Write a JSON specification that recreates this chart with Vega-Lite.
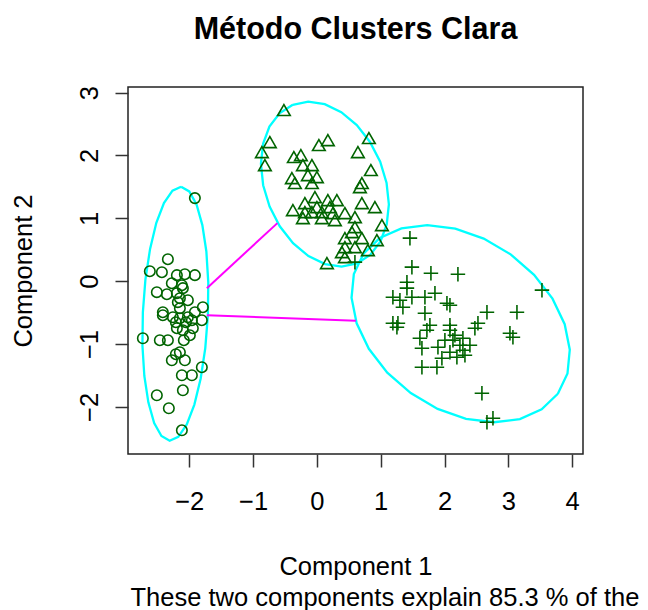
{
  "$schema": "https://vega.github.io/schema/vega-lite/v6.json",
  "width": 455,
  "height": 367,
  "autosize": {"type": "none"},
  "padding": {"left": 128, "top": 87, "right": 65, "bottom": 156},
  "background": "white",
  "title": {
    "text": "Método Clusters Clara",
    "font": "Liberation Sans",
    "fontSize": 30.5,
    "fontWeight": "bold",
    "color": "#000000",
    "anchor": "middle",
    "baseline": "alphabetic",
    "offset": 16
  },
  "config": {
    "font": "Liberation Sans",
    "view": {"stroke": "#222222", "strokeWidth": 1.5},
    "axis": {"grid": false}
  },
  "datasets": {
    "pts": [
      {"cluster":"1","x":-1.912,"y":1.322},{"cluster":"1","x":-2.335,"y":0.350},{"cluster":"1","x":-2.618,"y":0.159},{"cluster":"1","x":-2.429,"y":0.143},{"cluster":"1","x":-2.194,"y":0.096},{"cluster":"1","x":-2.069,"y":0.111},{"cluster":"1","x":-1.912,"y":0.096},{"cluster":"1","x":-2.273,"y":-0.032},{"cluster":"1","x":-2.116,"y":-0.064},{"cluster":"1","x":-2.508,"y":-0.175},{"cluster":"1","x":-2.351,"y":-0.207},{"cluster":"1","x":-2.194,"y":-0.191},{"cluster":"1","x":-2.100,"y":-0.111},{"cluster":"1","x":-2.147,"y":-0.271},{"cluster":"1","x":-1.787,"y":-0.414},{"cluster":"1","x":-2.414,"y":-0.494},{"cluster":"1","x":-2.147,"y":-0.430},{"cluster":"1","x":-2.414,"y":-0.541},{"cluster":"1","x":-2.257,"y":-0.573},{"cluster":"1","x":-2.147,"y":-0.589},{"cluster":"1","x":-2.022,"y":-0.573},{"cluster":"1","x":-1.803,"y":-0.621},{"cluster":"1","x":-2.194,"y":-0.748},{"cluster":"1","x":-2.100,"y":-0.780},{"cluster":"1","x":-1.944,"y":-0.748},{"cluster":"1","x":-1.991,"y":-0.860},{"cluster":"1","x":-2.727,"y":-0.908},{"cluster":"1","x":-2.461,"y":-0.939},{"cluster":"1","x":-2.335,"y":-0.939},{"cluster":"1","x":-2.147,"y":-1.131},{"cluster":"1","x":-2.273,"y":-1.258},{"cluster":"1","x":-2.069,"y":-1.258},{"cluster":"1","x":-1.803,"y":-1.369},{"cluster":"1","x":-2.116,"y":-1.497},{"cluster":"1","x":-1.959,"y":-1.497},{"cluster":"1","x":-2.100,"y":-1.736},{"cluster":"1","x":-2.508,"y":-1.815},{"cluster":"1","x":-2.320,"y":-2.022},{"cluster":"1","x":-2.116,"y":-2.373},{"cluster":"1","x":-2.053,"y":-0.653},{"cluster":"1","x":-1.959,"y":-0.621},{"cluster":"1","x":-2.210,"y":-0.653},{"cluster":"1","x":-1.912,"y":-0.494},{"cluster":"1","x":-2.022,"y":-0.303},{"cluster":"1","x":-2.179,"y":-0.334},{"cluster":"1","x":-2.085,"y":-0.939},{"cluster":"1","x":-2.210,"y":-1.162},
      {"cluster":"2","x":-0.517,"y":2.723},{"cluster":"2","x":-0.737,"y":2.213},{"cluster":"2","x":-0.862,"y":2.054},{"cluster":"2","x":-0.815,"y":1.847},{"cluster":"2","x":0.031,"y":2.166},{"cluster":"2","x":0.172,"y":2.245},{"cluster":"2","x":0.815,"y":2.277},{"cluster":"2","x":0.643,"y":2.054},{"cluster":"2","x":0.846,"y":1.768},{"cluster":"2","x":-0.361,"y":1.975},{"cluster":"2","x":-0.251,"y":2.006},{"cluster":"2","x":-0.219,"y":1.847},{"cluster":"2","x":-0.078,"y":1.847},{"cluster":"2","x":-0.392,"y":1.640},{"cluster":"2","x":-0.141,"y":1.688},{"cluster":"2","x":0.000,"y":1.656},{"cluster":"2","x":0.705,"y":1.561},{"cluster":"2","x":-0.345,"y":1.561},{"cluster":"2","x":-0.078,"y":1.561},{"cluster":"2","x":0.674,"y":1.497},{"cluster":"2","x":-0.031,"y":1.338},{"cluster":"2","x":0.172,"y":1.290},{"cluster":"2","x":0.313,"y":1.290},{"cluster":"2","x":0.705,"y":1.242},{"cluster":"2","x":0.909,"y":1.178},{"cluster":"2","x":-0.376,"y":1.131},{"cluster":"2","x":-0.188,"y":1.099},{"cluster":"2","x":-0.078,"y":1.099},{"cluster":"2","x":0.078,"y":1.099},{"cluster":"2","x":0.251,"y":1.083},{"cluster":"2","x":0.439,"y":1.083},{"cluster":"2","x":-0.219,"y":1.003},{"cluster":"2","x":0.078,"y":1.003},{"cluster":"2","x":0.282,"y":0.971},{"cluster":"2","x":0.596,"y":1.019},{"cluster":"2","x":0.596,"y":0.860},{"cluster":"2","x":1.019,"y":0.892},{"cluster":"2","x":0.549,"y":0.780},{"cluster":"2","x":0.439,"y":0.685},{"cluster":"2","x":0.705,"y":0.685},{"cluster":"2","x":0.940,"y":0.653},{"cluster":"2","x":0.439,"y":0.541},{"cluster":"2","x":0.596,"y":0.541},{"cluster":"2","x":0.799,"y":0.494},{"cluster":"2","x":0.439,"y":0.382},{"cluster":"2","x":0.157,"y":0.287},{"cluster":"2","x":-0.188,"y":1.242},{"cluster":"2","x":0.000,"y":1.178},{"cluster":"2","x":0.204,"y":1.178},{"cluster":"2","x":0.392,"y":0.462},
      {"cluster":"3","x":1.458,"y":0.685},{"cluster":"3","x":1.489,"y":0.223},{"cluster":"3","x":1.787,"y":0.127},{"cluster":"3","x":2.210,"y":0.111},{"cluster":"3","x":3.527,"y":-0.143},{"cluster":"3","x":1.411,"y":-0.016},{"cluster":"3","x":1.411,"y":-0.111},{"cluster":"3","x":1.191,"y":-0.255},{"cluster":"3","x":1.301,"y":-0.303},{"cluster":"3","x":1.489,"y":-0.255},{"cluster":"3","x":1.693,"y":-0.255},{"cluster":"3","x":1.850,"y":-0.191},{"cluster":"3","x":2.038,"y":-0.350},{"cluster":"3","x":2.085,"y":-0.382},{"cluster":"3","x":2.665,"y":-0.494},{"cluster":"3","x":3.135,"y":-0.494},{"cluster":"3","x":1.693,"y":-0.510},{"cluster":"3","x":1.191,"y":-0.669},{"cluster":"3","x":1.270,"y":-0.669},{"cluster":"3","x":1.771,"y":-0.701},{"cluster":"3","x":2.085,"y":-0.701},{"cluster":"3","x":2.524,"y":-0.669},{"cluster":"3","x":1.348,"y":-0.414},{"cluster":"3","x":0.596,"y":0.303},{"cluster":"3","x":1.254,"y":-0.732},{"cluster":"3","x":1.724,"y":-0.780},{"cluster":"3","x":2.476,"y":-0.748},{"cluster":"3","x":3.025,"y":-0.828},{"cluster":"3","x":3.072,"y":-0.892},{"cluster":"3","x":1.614,"y":-0.908},{"cluster":"3","x":2.132,"y":-0.939},{"cluster":"3","x":2.288,"y":-0.908},{"cluster":"3","x":1.897,"y":-1.051},{"cluster":"3","x":1.646,"y":-1.067},{"cluster":"3","x":2.085,"y":-1.131},{"cluster":"3","x":2.288,"y":-1.099},{"cluster":"3","x":2.320,"y":-1.178},{"cluster":"3","x":2.194,"y":-1.210},{"cluster":"3","x":1.959,"y":-1.226},{"cluster":"3","x":1.646,"y":-1.369},{"cluster":"3","x":1.881,"y":-1.369},{"cluster":"3","x":2.586,"y":-1.783},{"cluster":"3","x":2.665,"y":-2.245},{"cluster":"3","x":2.759,"y":-2.182},{"cluster":"3","x":2.163,"y":-0.860},{"cluster":"3","x":2.241,"y":-1.019},{"cluster":"3","x":2.006,"y":-0.939},{"cluster":"3","x":2.398,"y":-1.019},{"cluster":"3","x":2.085,"y":-0.780}
    ],
    "ell": [
      {"cluster":"1","i":0,"x":-2.128,"y":1.503},{"cluster":"1","i":1,"x":-2.000,"y":1.428},{"cluster":"1","i":2,"x":-1.886,"y":1.220},{"cluster":"1","i":3,"x":-1.795,"y":0.893},{"cluster":"1","i":4,"x":-1.732,"y":0.473},{"cluster":"1","i":5,"x":-1.702,"y":-0.018},{"cluster":"1","i":6,"x":-1.708,"y":-0.541},{"cluster":"1","i":7,"x":-1.749,"y":-1.065},{"cluster":"1","i":8,"x":-1.821,"y":-1.549},{"cluster":"1","i":9,"x":-1.920,"y":-1.963},{"cluster":"1","i":10,"x":-2.039,"y":-2.280},{"cluster":"1","i":11,"x":-2.172,"y":-2.476},{"cluster":"1","i":12,"x":-2.307,"y":-2.538},{"cluster":"1","i":13,"x":-2.436,"y":-2.463},{"cluster":"1","i":14,"x":-2.550,"y":-2.256},{"cluster":"1","i":15,"x":-2.641,"y":-1.928},{"cluster":"1","i":16,"x":-2.704,"y":-1.508},{"cluster":"1","i":17,"x":-2.734,"y":-1.019},{"cluster":"1","i":18,"x":-2.727,"y":-0.494},{"cluster":"1","i":19,"x":-2.687,"y":0.029},{"cluster":"1","i":20,"x":-2.614,"y":0.514},{"cluster":"1","i":21,"x":-2.516,"y":0.929},{"cluster":"1","i":22,"x":-2.397,"y":1.244},{"cluster":"1","i":23,"x":-2.263,"y":1.441},{"cluster":"1","i":24,"x":-2.128,"y":1.503},
      {"cluster":"2","i":0,"x":-0.378,"y":2.807},{"cluster":"2","i":1,"x":-0.136,"y":2.857},{"cluster":"2","i":2,"x":0.123,"y":2.817},{"cluster":"2","i":3,"x":0.382,"y":2.689},{"cluster":"2","i":4,"x":0.625,"y":2.485},{"cluster":"2","i":5,"x":0.832,"y":2.215},{"cluster":"2","i":6,"x":0.992,"y":1.901},{"cluster":"2","i":7,"x":1.092,"y":1.562},{"cluster":"2","i":8,"x":1.128,"y":1.222},{"cluster":"2","i":9,"x":1.094,"y":0.903},{"cluster":"2","i":10,"x":0.995,"y":0.629},{"cluster":"2","i":11,"x":0.835,"y":0.417},{"cluster":"2","i":12,"x":0.629,"y":0.282},{"cluster":"2","i":13,"x":0.387,"y":0.232},{"cluster":"2","i":14,"x":0.128,"y":0.272},{"cluster":"2","i":15,"x":-0.132,"y":0.400},{"cluster":"2","i":16,"x":-0.374,"y":0.604},{"cluster":"2","i":17,"x":-0.582,"y":0.874},{"cluster":"2","i":18,"x":-0.741,"y":1.188},{"cluster":"2","i":19,"x":-0.842,"y":1.527},{"cluster":"2","i":20,"x":-0.877,"y":1.867},{"cluster":"2","i":21,"x":-0.843,"y":2.186},{"cluster":"2","i":22,"x":-0.744,"y":2.460},{"cluster":"2","i":23,"x":-0.585,"y":2.672},{"cluster":"2","i":24,"x":-0.378,"y":2.807},
      {"cluster":"3","i":0,"x":3.776,"y":-1.791},{"cluster":"3","i":1,"x":3.927,"y":-1.467},{"cluster":"3","i":2,"x":3.963,"y":-1.090},{"cluster":"3","i":3,"x":3.883,"y":-0.684},{"cluster":"3","i":4,"x":3.692,"y":-0.278},{"cluster":"3","i":5,"x":3.403,"y":0.101},{"cluster":"3","i":6,"x":3.036,"y":0.427},{"cluster":"3","i":7,"x":2.614,"y":0.678},{"cluster":"3","i":8,"x":2.169,"y":0.837},{"cluster":"3","i":9,"x":1.729,"y":0.892},{"cluster":"3","i":10,"x":1.325,"y":0.840},{"cluster":"3","i":11,"x":0.984,"y":0.686},{"cluster":"3","i":12,"x":0.730,"y":0.437},{"cluster":"3","i":13,"x":0.579,"y":0.114},{"cluster":"3","i":14,"x":0.543,"y":-0.264},{"cluster":"3","i":15,"x":0.623,"y":-0.670},{"cluster":"3","i":16,"x":0.814,"y":-1.076},{"cluster":"3","i":17,"x":1.103,"y":-1.455},{"cluster":"3","i":18,"x":1.471,"y":-1.781},{"cluster":"3","i":19,"x":1.892,"y":-2.032},{"cluster":"3","i":20,"x":2.337,"y":-2.190},{"cluster":"3","i":21,"x":2.777,"y":-2.245},{"cluster":"3","i":22,"x":3.181,"y":-2.194},{"cluster":"3","i":23,"x":3.522,"y":-2.039},{"cluster":"3","i":24,"x":3.776,"y":-1.791}
    ],
    "links": [
      {"pair":"a","i":0,"x":-1.724,"y":-0.111},{"pair":"a","i":1,"x":-0.619,"y":0.924},
      {"pair":"b","i":0,"x":-1.724,"y":-0.541},{"pair":"b","i":1,"x":0.611,"y":-0.629}
    ]
  },
  "resolve": {"axis": {"x": "independent", "y": "independent"}},
  "layer": [
    {
      "data": {"name": "ell"},
      "mark": {"type": "line", "color": "#00FFFF", "strokeWidth": 2.3},
      "encoding": {
        "x": {"field": "x", "type": "quantitative", "scale": {"domain": [-2.96, 4.17], "nice": false, "zero": false},
              "axis": {"orient": "bottom", "title": "These two components explain 85.3 % of the", "ticks": false, "labels": false, "domain": false, "grid": false,
                       "titleFont": "Liberation Sans", "titleFontSize": 25.5, "titleFontWeight": "normal", "titleColor": "#000000",
                       "titleX": 2, "titleY": 151, "titleAlign": "left", "titleBaseline": "alphabetic", "titleAnchor": "start"}},
        "y": {"field": "y", "type": "quantitative", "scale": {"domain": [-2.75, 3.09], "nice": false, "zero": false}, "axis": null},
        "detail": {"field": "cluster"},
        "order": {"field": "i", "type": "quantitative"}
      }
    },
    {
      "data": {"name": "links"},
      "mark": {"type": "line", "color": "#FF00FF", "strokeWidth": 2},
      "encoding": {
        "x": {"field": "x", "type": "quantitative", "scale": {"domain": [-2.96, 4.17], "nice": false, "zero": false}, "axis": null},
        "y": {"field": "y", "type": "quantitative", "scale": {"domain": [-2.75, 3.09], "nice": false, "zero": false}, "axis": null},
        "detail": {"field": "pair"},
        "order": {"field": "i", "type": "quantitative"}
      }
    },
    {
      "data": {"name": "pts"},
      "mark": {"type": "point", "filled": false, "color": "#006400", "strokeWidth": 1.6, "opacity": 1},
      "encoding": {
        "x": {"field": "x", "type": "quantitative", "scale": {"domain": [-2.96, 4.17], "nice": false, "zero": false},
              "axis": {"orient": "bottom", "title": "Component 1", "values": [-2, -1, 0, 1, 2, 3, 4], "domain": false, "grid": false,
                       "tickSize": 13, "tickWidth": 1.5, "tickColor": "#333333",
                       "labelFont": "Liberation Sans", "labelFontSize": 25.5, "labelColor": "#000000", "labelPadding": 42, "labelBaseline": "alphabetic",
                       "titleFont": "Liberation Sans", "titleFontSize": 25.5, "titleFontWeight": "normal", "titleColor": "#000000",
                       "titleY": 120, "titleBaseline": "alphabetic"}},
        "y": {"field": "y", "type": "quantitative", "scale": {"domain": [-2.75, 3.09], "nice": false, "zero": false},
              "axis": {"orient": "left", "title": "Component 2", "values": [-2, -1, 0, 1, 2, 3], "domain": false, "grid": false,
                       "tickSize": 13, "tickWidth": 1.5, "tickColor": "#333333",
                       "labelFont": "Liberation Sans", "labelFontSize": 25.5, "labelColor": "#000000", "labelPadding": 18,
                       "labelAngle": 270, "labelAlign": "center", "labelBaseline": "alphabetic",
                       "titleFont": "Liberation Sans", "titleFontSize": 25.5, "titleFontWeight": "normal", "titleColor": "#000000",
                       "titleX": -97, "titleY": 183.5, "titleAngle": 270, "titleAlign": "center", "titleBaseline": "alphabetic"}},
        "shape": {"field": "cluster", "type": "nominal", "scale": {"domain": ["1", "2", "3"], "range": ["circle", "triangle-up", "M-1,0L1,0M0,-1L0,1"]}, "legend": null},
        "size": {"field": "cluster", "type": "ordinal", "scale": {"domain": ["1", "2", "3"], "range": [110, 210, 230]}, "legend": null}
      }
    }
  ]
}
